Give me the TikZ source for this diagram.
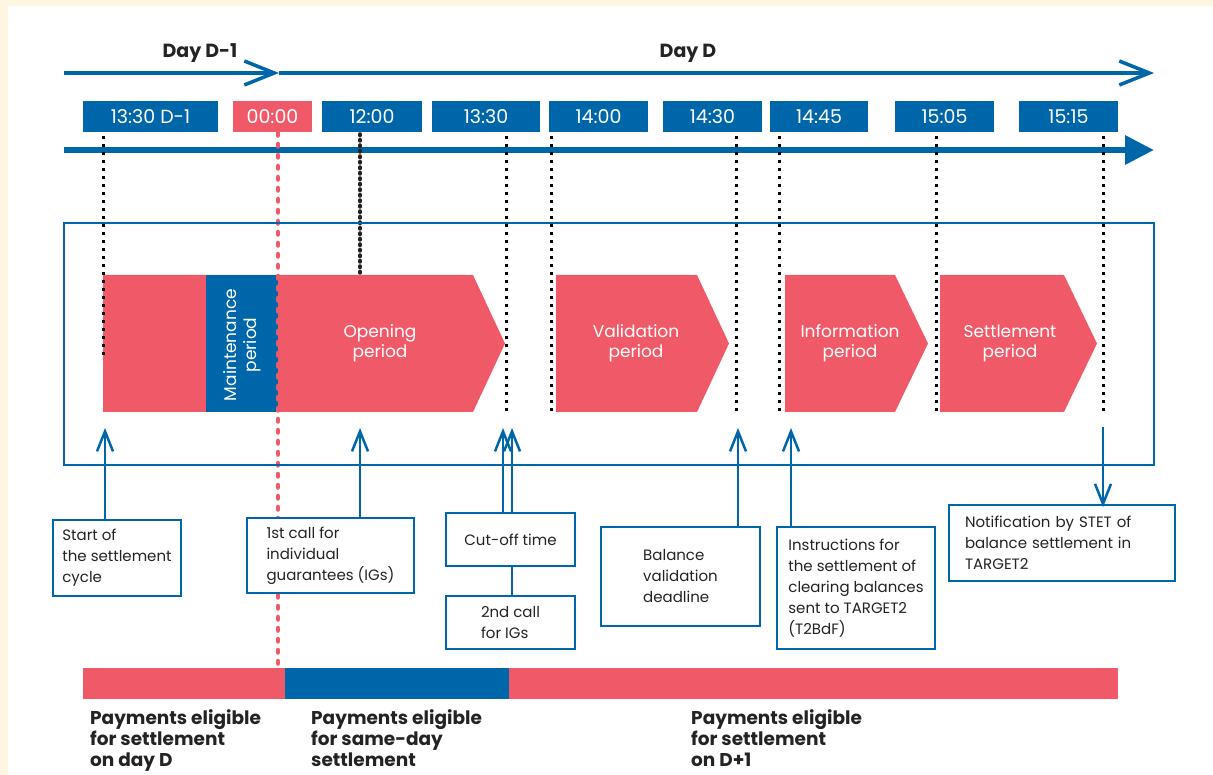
\documentclass[tikz,border=0pt]{standalone}
\usepackage{fontspec}
\setmainfont{Poppins}
\usetikzlibrary{arrows.meta, positioning}
\definecolor{stetblue}{RGB}{0,102,170}
\definecolor{stetred}{RGB}{240,90,104}
\definecolor{cream}{RGB}{255,246,225}
\definecolor{ink}{RGB}{35,35,35}
\tikzset{
  dayline/.style={draw=stetblue, line width=3.5pt, -{Straight Barb[length=30pt,width=24pt]}}, % open arrow of the days
  daylabel/.style={font=\fontsize{19}{20}\selectfont\bfseries, text=ink, inner sep=0pt},
  timeline/.style={draw=stetblue, line width=6.5pt, -{Triangle[length=29pt,width=28pt]}}, % thick time axis
  timebox/.style={fill=stetblue, text=white, minimum height=31pt, inner sep=0pt, font=\fontsize{19}{20}\selectfont},
  tick/.style={draw=black, line width=3pt, dash pattern=on 3pt off 5pt}, % dotted guides
  noontick/.style={draw=ink, line width=3.5pt, line cap=round, dash pattern=on 1.5pt off 4pt},
  midnight/.style={draw=stetred, line width=4.5pt, line cap=round, dash pattern=on 2.5pt off 8.5pt},
  period/.style={text=white, align=center, inner sep=0pt, font=\fontsize{17}{20}\selectfont},
  frame/.style={draw=stetblue, line width=1.5pt},
  callout/.style={draw=stetblue, line width=2.5pt, -{Straight Barb[length=20pt,width=16pt]}}, % arrows to the boxes
  calloutline/.style={draw=stetblue, line width=2.5pt},
  infobox/.style={draw=stetblue, line width=1.5pt, fill=white, text=ink, align=left, inner sep=0pt, font=\fontsize{15}{21}\selectfont},
  eligible/.style={anchor=north west, align=left, inner sep=0pt, text=ink, font=\fontsize{18.5}{21}\selectfont\bfseries},
}
\begin{document}
\begin{tikzpicture}[x=1pt, y=-1pt]
% background
\fill[cream] (0,0) rectangle (1213,775);
\fill[white] (8,6) rectangle (1213,775);
\useasboundingbox (0,0) rectangle (1213,775);

% days
\coordinate (dayStart) at (64,73);
\coordinate (dayMid) at (279,73);
\coordinate (dayEnd) at (1154,73);
\draw[dayline] (dayStart) -- (dayMid);
\draw[dayline] (dayMid) -- (dayEnd);
\node[daylabel] (dayprev) at (200,53) {Day D-1};
\node[daylabel] (dayd) at (688,53) {Day D};

% time axis
\coordinate (axisStart) at (64,150);
\coordinate (axisEnd) at (1154,150);
\draw[timeline] (axisStart) -- (axisEnd);

% times
\node[timebox, minimum width=135pt] (tprev) at (150.5,116.5) {13:30 D-1};
\node[timebox, minimum width=79pt, fill=stetred] (tmidnight) at (272.5,116.5) {00:00};
\node[timebox, minimum width=100pt] (tnoon) at (372,116.5) {12:00};
\node[timebox, minimum width=108pt] (tcutoff) at (486,116.5) {13:30};
\node[timebox, minimum width=99pt] (tvalid) at (598.5,116.5) {14:00};
\node[timebox, minimum width=99pt] (tdeadline) at (712.5,116.5) {14:30};
\node[timebox, minimum width=98pt] (tinfo) at (819,116.5) {14:45};
\node[timebox, minimum width=99pt] (tsettle) at (944.5,116.5) {15:05};
\node[timebox, minimum width=99pt] (tnotif) at (1068.5,116.5) {15:15};

% periods
\fill[stetred] (103,275) -- (473,275) -- (505,343.5) -- (473,412) -- (103,412) -- cycle;
\fill[stetblue] (206,275) rectangle (278,412);
\fill[stetred] (556,275) -- (697,275) -- (729,343.5) -- (697,412) -- (556,412) -- cycle;
\fill[stetred] (785,275) -- (895,275) -- (928,343.5) -- (895,412) -- (785,412) -- cycle;
\fill[stetred] (940,275) -- (1064,275) -- (1097,343.5) -- (1064,412) -- (940,412) -- cycle;
\node[period, rotate=90] (maint) at (242,345) {Maintenance\\period};
\node[period] (opening) at (380,343.5) {Opening\\period};
\node[period] (validation) at (636,343.5) {Validation\\period};
\node[period] (information) at (850,343.5) {Information\\period};
\node[period] (settlement) at (1010,343.5) {Settlement\\period};

% dotted guides
\draw[midnight] (278,133) -- (278,668);
\draw[tick] (103,136) -- (103,355);
\draw[noontick] (360,134) -- (360,275);
\draw[tick] (506,136) -- (506,412);
\draw[tick] (551,136) -- (551,412);
\draw[tick] (736,136) -- (736,412);
\draw[tick] (779,136) -- (779,412);
\draw[tick] (936,136) -- (936,412);
\draw[tick] (1103,136) -- (1103,412);

\draw[frame] (64,223) rectangle (1154,465);

% events
\node[infobox, minimum width=128pt, minimum height=76pt] (start) at (117,558) {Start of\\the settlement\\cycle};
\node[infobox, minimum width=167pt, minimum height=75pt] (firstcall) at (330.5,555.5) {1st call for\\individual\\guarantees (IGs)};
\node[infobox, minimum width=129pt, minimum height=53pt] (cutoff) at (510.5,539.5) {Cut-off time};
\node[infobox, minimum width=129pt, minimum height=53pt] (secondcall) at (510.5,622.5) {2nd call\\for IGs};
\node[infobox, minimum width=159pt, minimum height=99pt] (balance) at (680.5,576.5) {Balance\\validation\\deadline};
\node[infobox, minimum width=158pt, minimum height=122pt] (instr) at (856,588) {Instructions for\\the settlement of\\clearing balances\\sent to TARGET2\\(T2BdF)};
\node[infobox, minimum width=226pt, minimum height=76pt, text width=194pt] (notif) at (1062,543) {Notification by STET of\\balance settlement in\\TARGET2};

\coordinate (aStart) at (105,428);
\coordinate (aFirst) at (360,428);
\coordinate (aCutoff) at (503,428);
\coordinate (aSecond) at (512,428);
\coordinate (aBalance) at (738,428);
\coordinate (aInstr) at (791,428);
\coordinate (aNotif) at (1103,427);
\draw[callout] (start.north -| aStart) -- (aStart);
\draw[callout] (firstcall.north -| aFirst) -- (aFirst);
\draw[callout] (cutoff.north -| aCutoff) -- (aCutoff);
\draw[calloutline] (secondcall.north -| aSecond) -- (cutoff.south -| aSecond);
\draw[callout] (cutoff.north -| aSecond) -- (aSecond);
\draw[callout] (balance.north -| aBalance) -- (aBalance);
\draw[callout] (instr.north -| aInstr) -- (aInstr);
\draw[callout] (aNotif) -- ([yshift=-3pt]notif.north -| aNotif);

% settlement windows
\fill[stetred] (83,668) rectangle (285,699);
\fill[stetblue] (285,668) rectangle (509,699);
\fill[stetred] (509,668) rectangle (1118,699);
\node[eligible] (dayD) at (90,709) {Payments eligible\\for settlement\\on day D};
\node[eligible] (sameday) at (311,709) {Payments eligible\\for same-day\\settlement};
\node[eligible] (nextday) at (691,709) {Payments eligible\\for settlement\\on D+1};
\end{tikzpicture}
\end{document}
